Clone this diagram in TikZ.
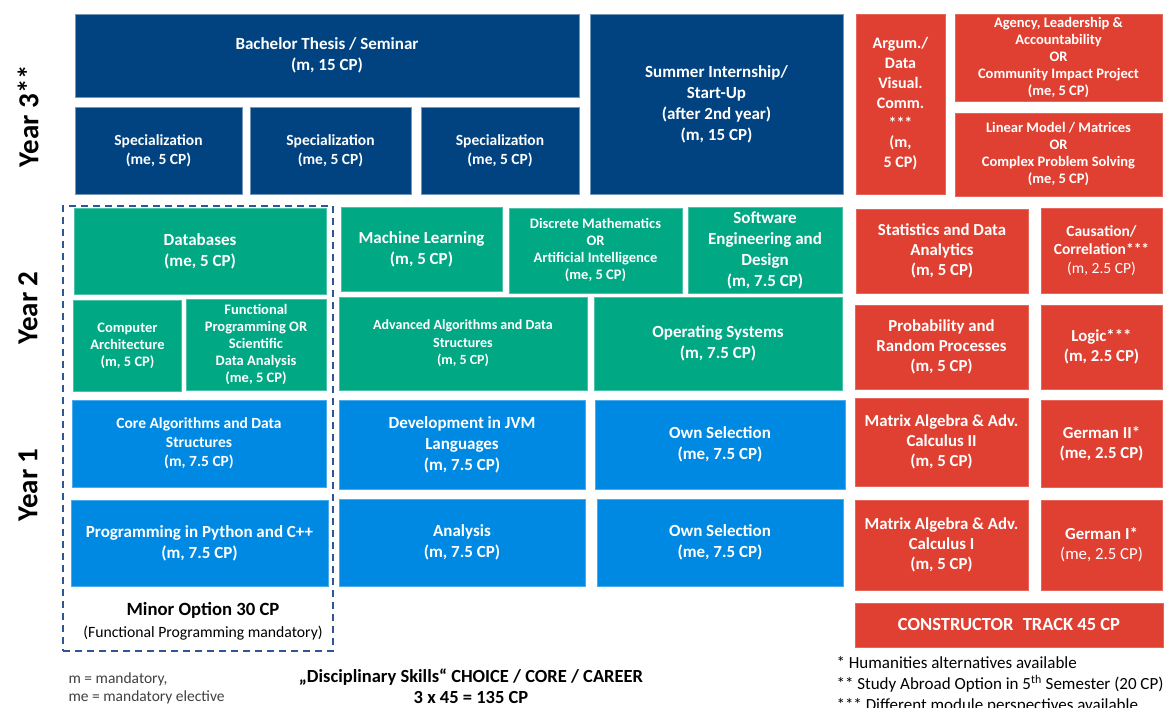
\documentclass[tikz,border=0pt]{standalone}
\usepackage{fontspec}
\setmainfont{Carlito}
\definecolor{yrdark}{RGB}{0,67,128}
\definecolor{yrteal}{RGB}{0,168,132}
\definecolor{yrlight}{RGB}{0,137,226}
\definecolor{trackred}{RGB}{224,64,50}
\definecolor{framecol}{RGB}{47,85,151}
\definecolor{notegray}{RGB}{64,64,64}

\begin{document}
\begin{tikzpicture}[
  x=1pt, y=-1pt,
  modbox/.style={rectangle, inner sep=0pt, outer sep=0pt, align=center,
    text=white, line width=0.6pt},
  darkmod/.style={modbox, fill=yrdark, draw=yrdark!55!white},
  tealmod/.style={modbox, fill=yrteal, draw=yrteal!70!white},
  lightmod/.style={modbox, fill=yrlight, draw=yrlight!70!white},
  redmod/.style={modbox, fill=trackred, draw=trackred!80!white},
  bigtxt/.style={font=\bfseries\fontsize{17}{21}\selectfont},
  redtxt/.style={font=\bfseries\fontsize{16.8}{20}\selectfont},
  midtxt/.style={font=\bfseries\fontsize{15.5}{19}\selectfont},
  smalltxt/.style={font=\bfseries\fontsize{14}{17.5}\selectfont},
  tinytxt/.style={font=\bfseries\fontsize{14.5}{17}\selectfont},
  yearlabel/.style={rotate=90, font=\bfseries\fontsize{29}{32}\selectfont},
  minorframe/.style={rectangle, draw=framecol, line width=2.2pt,
    dash pattern=on 7pt off 5pt, inner sep=0pt}
]
\useasboundingbox (0,0) rectangle (1168,708);

% Year labels
\node[yearlabel] (y3) at (28,116) {Year 3**};
\node[yearlabel] (y2) at (28,308) {Year 2};
\node[yearlabel] (y1) at (28,485) {Year 1};

% Year 3
\node[darkmod, bigtxt, minimum width=504pt, minimum height=83pt] (thesis) at (327,55.5) {Bachelor Thesis / Seminar\\(m, 15 CP)};
\node[darkmod, midtxt, minimum width=167pt, minimum height=87pt] (spec1) at (158.5,150.5) {Specialization\\(me, 5 CP)};
\node[darkmod, midtxt, minimum width=161pt, minimum height=87pt] (spec2) at (330.5,150.5) {Specialization\\(me, 5 CP)};
\node[darkmod, midtxt, minimum width=158pt, minimum height=87pt] (spec3) at (500,150.5) {Specialization\\(me, 5 CP)};
\node[darkmod, bigtxt, minimum width=253pt, minimum height=180pt] (summer) at (716.5,104) {Summer Internship/\\Start-Up\\(after 2nd year)\\(m, 15 CP)};
\node[redmod, font=\bfseries\fontsize{16}{19.8}\selectfont, minimum width=89pt, minimum height=180pt] (argum) at (900.5,104) {Argum./\\Data\\Visual.\\Comm.\\***\\(m,\\5 CP)};
\node[redmod, tinytxt, minimum width=207pt, minimum height=87pt] (agency) at (1058.5,57.5) {Agency, Leadership \&\\Accountability\\OR\\Community Impact Project\\(me, 5 CP)};
\node[redmod, tinytxt, minimum width=207pt, minimum height=83pt] (linmod) at (1058.5,154.5) {Linear Model / Matrices\\OR\\Complex Problem Solving\\(me, 5 CP)};

% Year 2
\node[tealmod, bigtxt, minimum width=252pt, minimum height=86pt] (dbs) at (200,251) {Databases\\(me, 5 CP)};
\node[tealmod, tinytxt, minimum width=108pt, minimum height=91pt] (comparch) at (127.5,345.5) {Computer\\Architecture\\(m, 5 CP)};
\node[tealmod, tinytxt, minimum width=140pt, minimum height=91pt] (funcprog) at (256,344.5) {Functional\\Programming OR\\Scientific\\Data Analysis\\(me, 5 CP)};
\node[tealmod, bigtxt, minimum width=161pt, minimum height=84pt] (ml) at (421.5,249) {Machine Learning\\(m, 5 CP)};
\node[tealmod, tinytxt, minimum width=173pt, minimum height=85pt] (discrete) at (595.5,250.5) {Discrete Mathematics\\OR\\Artificial Intelligence\\(me, 5 CP)};
\node[tealmod, bigtxt, minimum width=154pt, minimum height=86pt] (softeng) at (765,250) {Software\\Engineering and\\Design\\(m, 7.5 CP)};
\node[tealmod, smalltxt, minimum width=248pt, minimum height=93pt] (advalgo) at (463,343.5) {Advanced Algorithms and Data\\Structures\\(m, 5 CP)};
\node[tealmod, bigtxt, minimum width=248pt, minimum height=93pt] (opsys) at (718,343.5) {Operating Systems\\(m, 7.5 CP)};
\node[redmod, redtxt, minimum width=172pt, minimum height=84pt] (stats) at (942,251) {Statistics and Data\\Analytics\\(m, 5 CP)};
\node[redmod, font=\bfseries\fontsize{15.5}{18.5}\selectfont, minimum width=121pt, minimum height=85pt] (causal) at (1101.5,250.5) {Causation/\\Correlation***\\{\mdseries(m, 2.5 CP)}};
\node[redmod, redtxt, minimum width=173pt, minimum height=84pt] (prob) at (941.5,347) {Probability and\\Random Processes\\(m, 5 CP)};
\node[redmod, redtxt, minimum width=121pt, minimum height=84pt] (logic) at (1101.5,347) {Logic***\\(m, 2.5 CP)};

% Year 1
\node[lightmod, font=\bfseries\fontsize{15.5}{19}\selectfont, minimum width=254pt, minimum height=87pt] (corealgo) at (199,443.5) {Core Algorithms and Data\\Structures\\(m, 7.5 CP)};
\node[lightmod, bigtxt, minimum width=246pt, minimum height=89pt] (jvm) at (462,444.5) {Development in JVM\\Languages\\(m, 7.5 CP)};
\node[lightmod, bigtxt, minimum width=250pt, minimum height=89pt] (ownsel2) at (720,444.5) {Own Selection\\(me, 7.5 CP)};
\node[redmod, redtxt, minimum width=173pt, minimum height=88pt] (matrix2) at (941.5,442) {Matrix Algebra \& Adv.\\Calculus II\\(m, 5 CP)};
\node[redmod, redtxt, minimum width=121pt, minimum height=87pt] (german2) at (1101.5,443.5) {German II*\\(me, 2.5 CP)};
\node[lightmod, bigtxt, minimum width=257pt, minimum height=86pt] (python) at (199.5,543) {Programming in Python and C++\\(m, 7.5 CP)};
\node[lightmod, bigtxt, minimum width=246pt, minimum height=87pt] (analysis) at (462,542.5) {Analysis\\(m, 7.5 CP)};
\node[lightmod, bigtxt, minimum width=246pt, minimum height=87pt] (ownsel1) at (720,542.5) {Own Selection\\(me, 7.5 CP)};
\node[redmod, redtxt, minimum width=173pt, minimum height=90pt] (matrix1) at (941.5,545) {Matrix Algebra \& Adv.\\Calculus I\\(m, 5 CP)};
\node[redmod, redtxt, minimum width=121pt, minimum height=90pt] (german1) at (1101.5,545) {German I*\\{\mdseries(me, 2.5 CP)}};
\node[redmod, font=\bfseries\fontsize{18.5}{21}\selectfont, minimum width=308pt, minimum height=44pt] (track) at (1009,625) {CONSTRUCTOR\enspace TRACK 45 CP};

% Minor option frame
\node[minorframe, minimum width=270pt, minimum height=445pt] (minor) at (198,428.5) {};
\node[align=center, font=\fontsize{15.7}{22}\selectfont] (minortxt) at (203,621) {{\bfseries\fontsize{18.7}{22}\selectfont Minor Option 30 CP}\\(Functional Programming mandatory)};

% Notes below
\node[anchor=west, align=left, text=notegray, font=\fontsize{15.5}{18}\selectfont] (legend) at (65,688) {m = mandatory,\\me = mandatory elective};
\node[align=center, font=\bfseries\fontsize{18.5}{21}\selectfont] (skills) at (471,686.5) {„Disciplinary Skills“ CHOICE / CORE / CAREER\\3 x 45 = 135 CP};
\node[anchor=north west, align=left, font=\fontsize{17}{21}\selectfont] (notes) at (833,653) {* Humanities alternatives available\\** Study Abroad Option in 5\textsuperscript{th} Semester (20 CP)\\*** Different module perspectives available};

\end{tikzpicture}
\end{document}
